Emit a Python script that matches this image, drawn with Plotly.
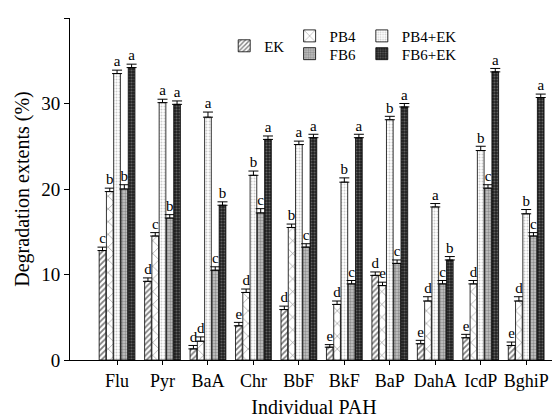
import plotly.graph_objects as go

categories = ["Flu", "Pyr", "BaA", "Chr", "BbF", "BkF", "BaP", "DahA", "IcdP", "BghiP"]
series_names = ["EK", "PB4", "PB4+EK", "FB6", "FB6+EK"]

ek = [12.8, 9.2, 1.3, 4.0, 5.9, 1.5, 9.9, 1.9, 2.6, 1.7]
pb4 = [19.7, 14.5, 2.2, 7.9, 15.5, 6.5, 8.7, 6.9, 8.9, 6.9]
pb4_ek = [33.5, 30.1, 28.4, 21.6, 25.2, 20.8, 28.1, 17.9, 24.5, 17.1]
fb6 = [20.0, 16.6, 10.5, 17.2, 13.2, 8.9, 11.3, 8.9, 20.1, 14.5]
fb6_ek = [34.2, 29.9, 18.1, 25.8, 26.0, 26.0, 29.6, 11.7, 33.7, 30.7]

ek_err = [0.4, 0.4, 0.4, 0.4, 0.4, 0.3, 0.4, 0.4, 0.4, 0.4]
pb4_err = [0.4, 0.4, 0.5, 0.4, 0.4, 0.4, 0.4, 0.5, 0.4, 0.5]
pb4_ek_err = [0.4, 0.4, 0.6, 0.5, 0.4, 0.5, 0.4, 0.4, 0.5, 0.5]
fb6_err = [0.5, 0.4, 0.4, 0.5, 0.4, 0.4, 0.4, 0.4, 0.4, 0.4]
fb6_ek_err = [0.4, 0.4, 0.4, 0.4, 0.4, 0.4, 0.4, 0.4, 0.4, 0.4]

ek_sig = ["c", "d", "d", "e", "d", "e", "d", "e", "e", "e"]
pb4_sig = ["b", "c", "d", "d", "b", "d", "e", "d", "d", "d"]
pb4_ek_sig = ["a", "a", "a", "b", "a", "b", "b", "a", "b", "b"]
fb6_sig = ["b", "b", "c", "c", "c", "c", "c", "c", "c", "c"]
fb6_ek_sig = ["a", "a", "b", "a", "a", "a", "a", "b", "a", "a"]

values = [ek, pb4, pb4_ek, fb6, fb6_ek]
errors = [ek_err, pb4_err, pb4_ek_err, fb6_err, fb6_ek_err]
sigs = [ek_sig, pb4_sig, pb4_ek_sig, fb6_sig, fb6_ek_sig]

patterns = [
    dict(shape="/", size=4, solidity=0.45, fgcolor="black", bgcolor="white"),
    dict(shape="x", size=9, solidity=0.12, fgcolor="black", bgcolor="white"),
    dict(shape=".", size=3, solidity=0.35, fgcolor="#9a9a9a", bgcolor="white"),
    dict(shape=".", size=3, solidity=0.5, fgcolor="#555555", bgcolor="#c8c8c8"),
    dict(shape=".", size=3, solidity=0.4, fgcolor="#a0a0a0", bgcolor="#202020"),
]
legend_ids = ["legend", "legend2", "legend3", "legend4", "legend5"]

FONT = "Liberation Serif"

fig = go.Figure()
for i, name in enumerate(series_names):
    fig.add_trace(go.Bar(
        x=categories, y=values[i], name=name,
        offsetgroup=str(i),
        marker=dict(color="white", line=dict(color="black", width=0.8), pattern=patterns[i]),
        error_y=dict(type="data", array=errors[i], symmetric=False,
                     arrayminus=[0] * len(categories), color="black", thickness=1, width=5),
        legend=legend_ids[i],
    ))

for i, name in enumerate(series_names):
    tops = [v + e for v, e in zip(values[i], errors[i])]
    fig.add_trace(go.Scatter(
        x=categories, y=tops, mode="text", text=sigs[i],
        textposition="top center", offsetgroup=str(i),
        textfont=dict(family=FONT, size=15, color="#000000"),
        showlegend=False, hoverinfo="skip", cliponaxis=False,
    ))

def leg(x, y):
    return dict(x=x, y=y, xanchor="left", yanchor="middle",
                bgcolor="rgba(0,0,0,0)", font=dict(family=FONT, size=15, color="black"),
                itemwidth=30, tracegroupgap=0)

fig.update_layout(
    width=552, height=411,
    margin=dict(l=62, r=2, t=10, b=59, autoexpand=False),
    paper_bgcolor="white", plot_bgcolor="white",
    barmode="group", scattermode="group",
    bargap=0.2, bargroupgap=0.08, scattergap=0.2,
    font=dict(family=FONT, size=16, color="black"),
    showlegend=True,
    legend=leg(0.316, 0.918),
    legend2=leg(0.45, 0.947),
    legend3=leg(0.598, 0.947),
    legend4=leg(0.45, 0.895),
    legend5=leg(0.598, 0.895),
    xaxis=dict(
        type="category", range=[-1.035, 9.70],
        showline=True, linecolor="black", linewidth=1,
        ticks="outside", ticklen=4, tickcolor="black",
        showgrid=False, zeroline=False,
        tickfont=dict(family=FONT, size=18),
        title=dict(text="Individual PAH", font=dict(family=FONT, size=20, color="black"), standoff=10),
    ),
    yaxis=dict(
        range=[0, 40], tickvals=[0, 10, 20, 30, 40],
        showline=True, linecolor="black", linewidth=1,
        ticks="outside", ticklen=5, tickcolor="black",
        showgrid=False, zeroline=False,
        tickfont=dict(family=FONT, size=19),
        title=dict(text="Degradation extents (%)", font=dict(family=FONT, size=20, color="black"), standoff=6),
    ),
)

fig.write_html("out.html")
